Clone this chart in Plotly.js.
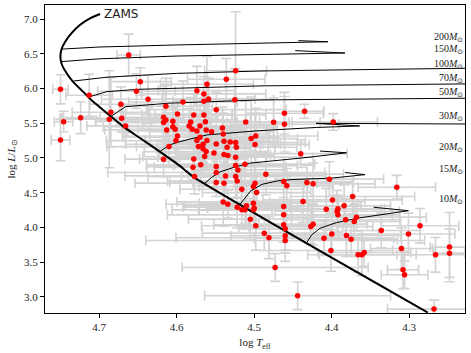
<!DOCTYPE html>
<html lang="en">
<head>
  <meta charset="UTF-8">
  <title>HR diagram</title>
  <script src="https://cdn.plot.ly/plotly-3.0.1.min.js"></script>
  <style>
    body { margin: 0; background: white; }
    #hrd { width: 471px; height: 353px; }
  </style>
</head>
<body>
  <div id="hrd"></div>
  <script>
    // Observed stars: log Teff, log L/Lsun and their errors
    const teff = [
      4.662, 4.647, 4.652, 4.750, 4.713, 4.637, 4.672, 4.746, 4.724, 4.685,
      4.687, 4.671, 4.666, 4.750, 4.617, 4.614, 4.617, 4.610, 4.617, 4.524,
      4.536, 4.561, 4.574, 4.565, 4.559, 4.565, 4.592, 4.525, 4.614, 4.549,
      4.599, 4.578, 4.565, 4.605, 4.582, 4.563, 4.511, 4.605, 4.584, 4.570,
      4.580, 4.613, 4.602, 4.574, 4.541, 4.562, 4.555, 4.540, 4.599, 4.570,
      4.498, 4.504, 4.601, 4.574, 4.561, 4.539, 4.531, 4.524, 4.499, 4.566,
      4.549, 4.572, 4.566, 4.535, 4.523, 4.578, 4.564, 4.534, 4.524, 4.552,
      4.549, 4.537, 4.539, 4.562, 4.579, 4.569, 4.524, 4.521, 4.512, 4.577,
      4.549, 4.524, 4.522, 4.485, 4.549, 4.539, 4.499, 4.501, 4.462, 4.458,
      4.516, 4.497, 4.540, 4.534, 4.522, 4.516, 4.512, 4.510, 4.501, 4.462,
      4.462, 4.505, 4.498, 4.462, 4.460, 4.487, 4.481, 4.460, 4.460, 4.501,
      4.432, 4.424, 4.403, 4.316, 4.437, 4.500, 4.407, 4.399, 4.392, 4.393,
      4.392, 4.384, 4.373, 4.382, 4.371, 4.368, 4.424, 4.427, 4.400, 4.410,
      4.381, 4.375, 4.401, 4.366, 4.361, 4.358, 4.336, 4.301, 4.286, 4.310,
      4.248, 4.248, 4.266, 4.473, 4.308, 4.306, 4.444, 4.268, 4.461, 4.435,
      4.475, 4.461, 4.398, 4.440
    ];
    const logL = [
      6.486, 6.101, 5.963, 5.991, 5.905, 5.847, 5.775, 5.524, 5.582, 5.660,
      5.559, 5.573, 5.463, 5.261, 5.588, 5.549, 5.510, 5.164, 4.983, 6.259,
      6.135, 6.063, 5.971, 5.924, 5.852, 5.818, 5.808, 5.841, 5.746, 5.697,
      5.635, 5.621, 5.621, 5.530, 5.520, 5.524, 5.520, 5.452, 5.463, 5.463,
      5.415, 5.405, 5.415, 5.390, 5.434, 5.405, 5.380, 5.347, 5.318, 5.300,
      5.318, 5.280, 5.251, 5.251, 5.251, 5.242, 5.232, 5.222, 5.193, 5.199,
      5.203, 5.164, 5.135, 5.156, 5.156, 4.987, 5.020, 5.035, 5.012, 5.073,
      4.876, 4.742, 5.049, 5.092, 4.867, 4.901, 4.890, 4.828, 4.911, 4.732,
      4.790, 4.732, 4.670, 4.767, 4.646, 4.637, 4.637, 4.588, 4.660, 4.598,
      4.550, 4.501, 4.367, 4.334, 4.291, 4.252, 4.252, 4.310, 4.252, 4.300,
      4.180, 4.118, 4.022, 4.036, 3.978, 3.916, 3.849, 3.878, 3.810, 4.349,
      4.646, 4.627, 4.695, 4.579, 4.372, 4.277, 4.262, 4.396, 4.267, 4.233,
      4.180, 4.310, 4.444, 4.110, 4.084, 4.147, 4.046, 4.011, 3.905, 3.844,
      3.882, 3.830, 3.666, 3.604, 3.604, 3.637, 3.954, 3.905, 4.022, 3.695,
      3.715, 3.628, 3.604, 3.421, 3.388, 3.316, 3.013, 2.821, 5.646, 5.674,
      5.516, 5.487, 5.520, 5.063
    ];
    const teffErr = [
      0.015, 0.04, 0.05, 0.01, 0.03, 0.06, 0.04, 0.012, 0.025, 0.05,
      0.06, 0.08, 0.05, 0.012, 0.07, 0.09, 0.06, 0.08, 0.05, 0.04,
      0.05, 0.06, 0.05, 0.08, 0.06, 0.04, 0.07, 0.05, 0.06, 0.09,
      0.07, 0.05, 0.08, 0.10, 0.06, 0.07, 0.06, 0.09, 0.06, 0.10,
      0.07, 0.08, 0.06, 0.09, 0.07, 0.05, 0.08, 0.06, 0.07, 0.10,
      0.08, 0.06, 0.09, 0.06, 0.08, 0.07, 0.05, 0.09, 0.07, 0.10,
      0.06, 0.08, 0.06, 0.09, 0.05, 0.07, 0.08, 0.06, 0.10, 0.07,
      0.09, 0.13, 0.06, 0.08, 0.05, 0.07, 0.08, 0.06, 0.09, 0.06,
      0.14, 0.07, 0.09, 0.10, 0.06, 0.115, 0.08, 0.07, 0.09, 0.06,
      0.08, 0.07, 0.06, 0.08, 0.07, 0.09, 0.06, 0.08, 0.07, 0.10,
      0.15, 0.08, 0.07, 0.09, 0.06, 0.08, 0.12, 0.07, 0.18, 0.07,
      0.06, 0.08, 0.07, 0.05, 0.08, 0.06, 0.07, 0.09, 0.06, 0.08,
      0.07, 0.06, 0.08, 0.07, 0.06, 0.09, 0.07, 0.08, 0.06, 0.09,
      0.07, 0.06, 0.08, 0.05, 0.07, 0.06, 0.05, 0.06, 0.05, 0.04,
      0.025, 0.02, 0.04, 0.12, 0.02, 0.03, 0.12, 0.06, 0.05, 0.025,
      0.06, 0.07, 0.057, 0.06
    ];
    const logLErr = [
      0.30, 0.20, 0.25, 0.21, 0.30, 0.35, 0.25, 0.15, 0.23, 0.50,
      0.70, 0.20, 0.30, 0.30, 0.45, 0.60, 0.25, 0.30, 0.25, 0.85,
      0.30, 0.40, 0.35, 0.25, 0.30, 0.20, 0.30, 0.45, 0.30, 0.25,
      0.20, 0.30, 0.25, 0.20, 0.35, 0.25, 0.30, 0.20, 0.25, 0.30,
      0.20, 0.25, 0.35, 0.20, 0.30, 0.25, 0.20, 0.30, 0.25, 0.30,
      0.40, 0.60, 0.30, 0.20, 0.25, 0.30, 0.20, 0.25, 0.45, 0.30,
      0.25, 0.35, 0.20, 0.30, 0.25, 0.30, 0.20, 0.30, 0.25, 0.20,
      0.30, 0.25, 0.35, 0.25, 0.20, 0.30, 0.25, 0.20, 0.30, 0.25,
      0.20, 0.30, 0.25, 0.30, 0.20, 0.25, 0.30, 0.20, 0.35, 0.25,
      0.30, 0.25, 0.35, 0.20, 0.30, 0.25, 0.20, 0.30, 0.25, 0.30,
      0.25, 0.30, 0.35, 0.25, 0.30, 0.25, 0.30, 0.25, 0.30, 0.25,
      0.25, 0.30, 0.25, 0.17, 0.30, 0.25, 0.30, 0.25, 0.20, 0.30,
      0.25, 0.30, 0.25, 0.30, 0.25, 0.20, 0.30, 0.25, 0.30, 0.25,
      0.30, 0.25, 0.30, 0.25, 0.30, 0.20, 0.25, 0.30, 0.25, 0.30,
      0.50, 0.35, 0.25, 0.20, 0.27, 0.20, 0.20, 0.13, 0.30, 0.10,
      0.35, 0.40, 0.12, 0.20
    ];

    // Zero-age main sequence
    const zamsT = [4.699, 4.712, 4.725, 4.736, 4.744, 4.749, 4.750, 4.748, 4.742, 4.734,
                   4.721, 4.708, 4.690, 4.669, 4.647, 4.622, 4.596, 4.579, 4.276];
    const zamsL = [7.077, 7.014, 6.918, 6.798, 6.677, 6.558, 6.438, 6.341, 6.222, 6.101,
                   5.957, 5.813, 5.646, 5.452, 5.285, 5.092, 4.886, 4.732, 2.772];

    // Evolutionary tracks, one per initial mass
    const trackMass = [200, 150, 100, 70, 50, 30, 20, 15, 10];
    const trackLabelL = [6.741, 6.563, 6.342, 6.140, 5.948, 5.597, 5.150, 4.829, 4.397];
    const trackT = [
      [4.749, 4.70, 4.60, 4.50, 4.405, 4.443],
      [4.750, 4.70, 4.60, 4.493, 4.383, 4.447],
      [4.733, 4.69, 4.60, 4.49, 4.228, 4.20],
      [4.712, 4.690, 4.65, 4.55, 4.49, 4.228, 4.20],
      [4.684, 4.666, 4.61, 4.493, 4.228, 4.20],
      [4.622, 4.609, 4.596, 4.561, 4.493, 4.42, 4.364, 4.42, 4.228, 4.20],
      [4.564, 4.555, 4.544, 4.525, 4.506, 4.45, 4.43, 4.381, 4.415],
      [4.518, 4.512, 4.505, 4.49, 4.47, 4.45, 4.40, 4.357, 4.383],
      [4.432, 4.426, 4.415, 4.394, 4.368, 4.33, 4.301, 4.346]
    ];
    const trackL = [
      [6.57, 6.60, 6.63, 6.65, 6.676, 6.692],
      [6.389, 6.43, 6.47, 6.49, 6.514, 6.548],
      [6.11, 6.165, 6.22, 6.255, 6.294, 6.30],
      [5.885, 5.957, 5.99, 6.025, 6.04, 6.068, 6.07],
      [5.607, 5.74, 5.79, 5.837, 5.862, 5.865],
      [5.092, 5.189, 5.236, 5.333, 5.395, 5.44, 5.462, 5.50, 5.49, 5.49],
      [4.634, 4.72, 4.80, 4.87, 4.925, 4.985, 5.01, 5.075, 5.10],
      [4.336, 4.42, 4.52, 4.62, 4.67, 4.69, 4.71, 4.76, 4.79],
      [3.781, 3.89, 3.987, 4.068, 4.13, 4.19, 4.24, 4.29]
    ];

    const serif = 'Liberation Serif';
    const data = [];

    // error bars first so the tracks sit on top of them
    data.push({
      x: teff, y: logL, mode: 'markers', type: 'scatter',
      marker: { size: 1, color: 'rgba(0,0,0,0)' },
      error_x: { type: 'data', array: teffErr, color: '#d3d3d3', thickness: 1.6, width: 5 },
      error_y: { type: 'data', array: logLErr, color: '#d3d3d3', thickness: 1.6, width: 5 },
      hoverinfo: 'skip'
    });

    for (let i = 0; i < trackMass.length; i++) {
      data.push({
        x: trackT[i], y: trackL[i], mode: 'lines', type: 'scatter',
        line: { color: 'black', width: 1 }, hoverinfo: 'skip'
      });
    }

    data.push({
      x: zamsT, y: zamsL, mode: 'lines', type: 'scatter',
      line: { color: 'black', width: 2, shape: 'spline', smoothing: 0.6 }, hoverinfo: 'skip'
    });

    data.push({
      x: teff, y: logL, mode: 'markers', type: 'scatter',
      marker: { size: 5.5, color: 'red' }
    });

    const annotations = trackMass.map((m, i) => ({
      xref: 'paper', x: 1.0, xanchor: 'right',
      yref: 'y', y: trackLabelL[i], yanchor: 'middle',
      text: m + '<i>M</i><sub>⊙</sub>', showarrow: false,
      font: { family: serif, size: 10, color: '#222' }
    }));
    annotations.push({
      xref: 'x', x: 4.697, xanchor: 'left',
      yref: 'y', y: 7.08, yanchor: 'middle',
      text: 'ZAMS', showarrow: false,
      font: { family: 'DejaVu Sans', size: 12, color: '#222' }
    });

    const axisCommon = {
      showline: true, mirror: true, linecolor: 'black', linewidth: 1,
      ticks: 'outside', ticklen: 4, tickwidth: 1, tickcolor: 'black',
      showgrid: false, zeroline: false, automargin: false,
      tickfont: { family: serif, size: 11, color: '#222' }
    };

    const layout = {
      width: 471, height: 353,
      margin: { l: 45, r: 6, t: 5, b: 40 },
      paper_bgcolor: 'white', plot_bgcolor: 'white',
      showlegend: false,
      xaxis: Object.assign({}, axisCommon, {
        range: [4.770, 4.228], tickvals: [4.7, 4.6, 4.5, 4.4, 4.3], tickformat: '.1f',
        title: { text: 'log <i>T</i><sub>eff</sub>', font: { family: serif, size: 11, color: '#222' }, standoff: 6 }
      }),
      yaxis: Object.assign({}, axisCommon, {
        range: [2.765, 7.206], tickvals: [3.0, 3.5, 4.0, 4.5, 5.0, 5.5, 6.0, 6.5, 7.0], tickformat: '.1f',
        title: { text: 'log <i>L</i>/<i>L</i><sub>⊙</sub>', font: { family: serif, size: 11, color: '#222' }, standoff: 6 }
      }),
      annotations: annotations
    };

    Plotly.newPlot('hrd', data, layout, { staticPlot: true, displayModeBar: false });
  </script>
</body>
</html>
